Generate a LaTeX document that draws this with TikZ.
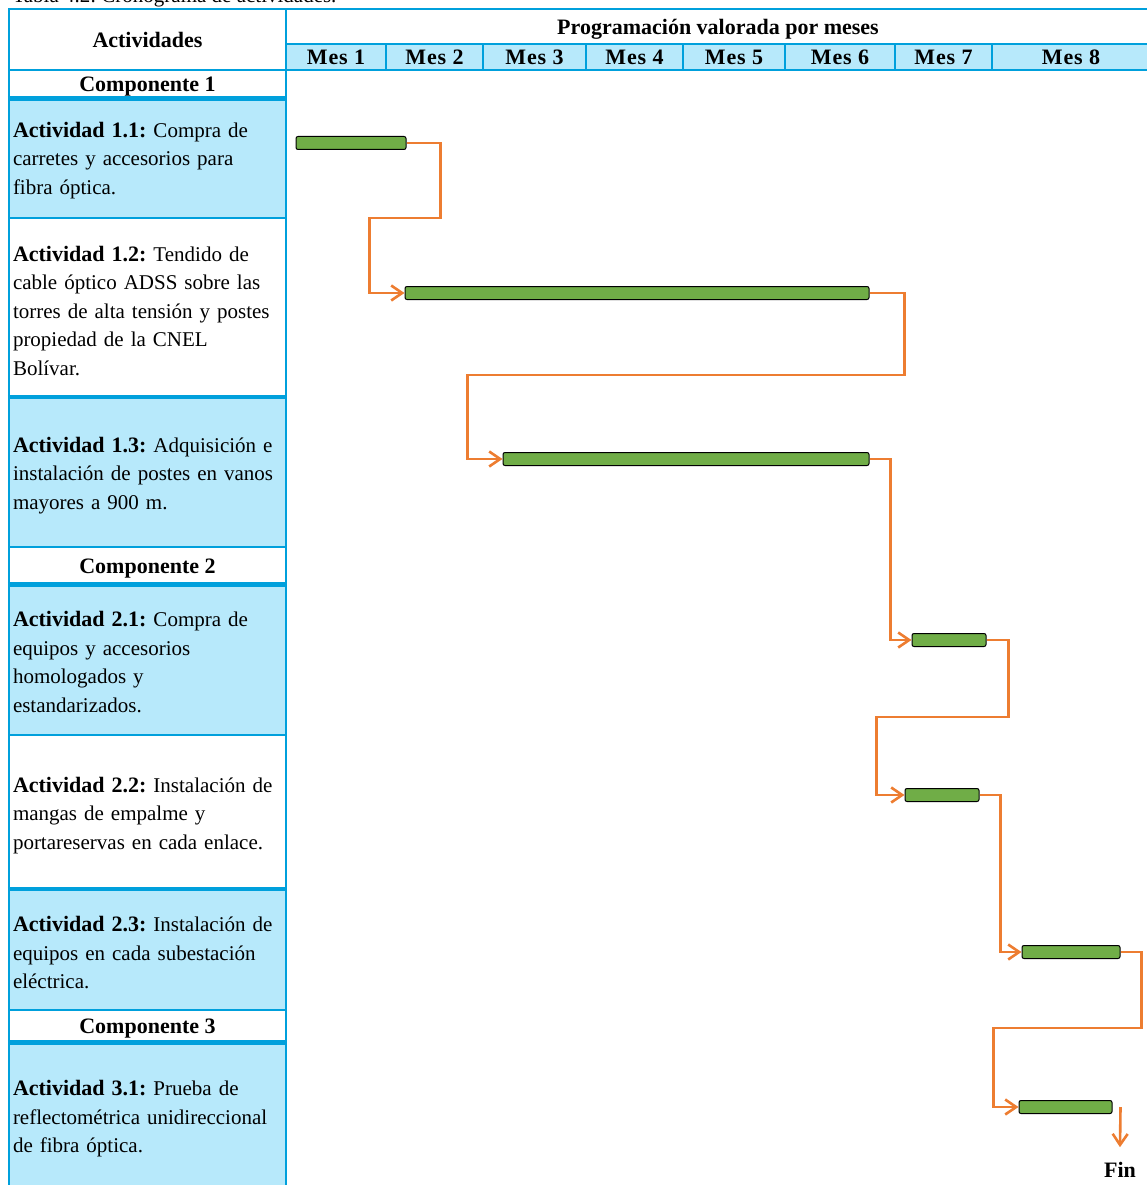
\documentclass[tikz,border=0pt]{standalone}
\usepackage{fontspec}
\setmainfont{Liberation Serif}
\newfontfamily\mesfont[LetterSpace=4]{Liberation Serif}
\usetikzlibrary{arrows.meta}

\definecolor{azulborde}{RGB}{0,160,220}
\definecolor{azulcelda}{RGB}{183,233,251}
\definecolor{verdebarra}{RGB}{112,173,71}
\definecolor{naranja}{RGB}{237,125,49}

\frenchspacing
\newcommand\etiqueta[1]{{\fontsize{22}{28.5}\selectfont\bfseries #1}}

\tikzset{
	celda/.style={draw=azulborde, line width=2.5pt, inner sep=0pt, font=\fontsize{21}{28.5}\selectfont},
	titulo/.style={celda, fill=white, font=\fontsize{22}{28}\selectfont\bfseries},
	actividad/.style={celda, fill=azulcelda, minimum width=277pt, text width=269pt, align=left,
		execute at begin node={\rule{0pt}{21pt}}},
	componente/.style={titulo, minimum width=277pt, text height=18pt, text depth=2pt},
	mes/.style={celda, fill=azulcelda, minimum height=26pt, font=\mesfont\fontsize{22}{24}\selectfont\bfseries},
	barra/.style={draw=black, fill=verdebarra, rounded corners=2pt, line width=1pt, minimum height=13pt, inner sep=0pt},
	flujo/.style={draw=naranja, line width=2.6pt, -{Straight Barb[length=11pt,width=15pt]}},
	linea/.style={draw=azulborde, line width=5pt}
}

\begin{document}
\begin{tikzpicture}[x=1pt, y=-1pt]
	\useasboundingbox (0,0) rectangle (1147,1185);
	
	\node[anchor=base west, font=\fontsize{21}{28}\selectfont] (tabla) at (9,3) {Tabla 4.2: Cronograma de actividades.};
	
	% encabezado
	\node[titulo, minimum width=277pt, minimum height=61pt] (actividades) at (147.5,39.5) {Actividades};
	\node[titulo, minimum width=864pt, minimum height=35pt, text height=18pt, text depth=2pt] (programacion) at (718,26.5) {Programación valorada por meses};
	
	\node[mes, minimum width=100pt] (mes1) at (336,57)    {Mes 1};
	\node[mes, minimum width=97pt]  (mes2) at (434.5,57)  {Mes 2};
	\node[mes, minimum width=103pt] (mes3) at (534.5,57)  {Mes 3};
	\node[mes, minimum width=97pt]  (mes4) at (634.5,57)  {Mes 4};
	\node[mes, minimum width=102pt] (mes5) at (734,57)    {Mes 5};
	\node[mes, minimum width=110pt] (mes6) at (840,57)    {Mes 6};
	\node[mes, minimum width=97pt]  (mes7) at (943.5,57)  {Mes 7};
	\node[mes, minimum width=158pt] (mes8) at (1071,57)   {Mes 8};
	
	% columna de actividades
	\node[componente, minimum height=27pt] (comp1) at (147.5,83.5) {Componente 1};
	\node[actividad, minimum height=121pt] (act11) at (147.5,157.5) {\etiqueta{Actividad 1.1:} Compra de\\carretes y accesorios para\\fibra óptica.};
	\node[actividad, fill=white, minimum height=180pt] (act12) at (147.5,308) {\etiqueta{Actividad 1.2:} Tendido de\\cable óptico ADSS sobre las\\torres de alta tensión y postes\\propiedad de la CNEL\\Bolívar.};
	\node[actividad, minimum height=149pt] (act13) at (147.5,472.5) {\etiqueta{Actividad 1.3:} Adquisición e\\instalación de postes en vanos\\mayores a 900 m.};
	
	\node[componente, minimum height=36pt] (comp2) at (147.5,565) {Componente 2};
	\node[actividad, minimum height=152pt] (act21) at (147.5,659) {\etiqueta{Actividad 2.1:} Compra de\\equipos y accesorios\\homologados y\\estandarizados.};
	\node[actividad, fill=white, minimum height=155pt] (act22) at (147.5,812.5) {\etiqueta{Actividad 2.2:} Instalación de\\mangas de empalme y\\portareservas en cada enlace.};
	\node[actividad, minimum height=120pt] (act23) at (147.5,950) {\etiqueta{Actividad 2.3:} Instalación de\\equipos en cada subestación\\eléctrica.};
	
	\node[componente, minimum height=31pt] (comp3) at (147.5,1025.5) {Componente 3};
	\node[actividad, minimum height=150pt] (act31) at (147.5,1116) {\etiqueta{Actividad 3.1:} Prueba de\\reflectométrica unidireccional\\de fibra óptica.};
	
	% bordes gruesos
	\path[linea] (comp1.south west) -- (comp1.south east);
	\path[linea] (comp2.south west) -- (comp2.south east);
	\path[linea] (comp3.south west) -- (comp3.south east);
	\path[linea, line width=4pt] (act13.north west) -- (act13.north east);
	\path[linea, line width=3.5pt] (act23.north west) -- (act23.north east);
	
	% barras del cronograma
	\node[barra, minimum width=110pt] (b1) at (351,143)    {};
	\node[barra, minimum width=464pt] (b2) at (637,293)    {};
	\node[barra, minimum width=366pt] (b3) at (686,459)    {};
	\node[barra, minimum width=74pt]  (b4) at (949,640)    {};
	\node[barra, minimum width=74pt]  (b5) at (942,795)    {};
	\node[barra, minimum width=98pt]  (b6) at (1071,952)   {};
	\node[barra, minimum width=93pt]  (b7) at (1065.5,1107) {};
	
	\node[font=\fontsize{22}{24}\selectfont\bfseries, inner sep=0pt] (fin) at (1120,1170) {Fin};
	
	\path[flujo] (b1.east) -- ++(34,0) -- ++(0,75) -| ([xshift=-35pt]b2.west) -- (b2.west);
	\path[flujo] (b2.east) -- ++(35,0) -- ++(0,82) -| ([xshift=-35pt]b3.west) -- (b3.west);
	\path[flujo] (b3.east) -- ++(21,0) |- (b4.west);
	\path[flujo] (b4.east) -- ++(22,0) -- ++(0,77) -| ([xshift=-28pt]b5.west) -- (b5.west);
	\path[flujo] (b5.east) -- ++(21,0) |- (b6.west);
	\path[flujo] (b6.east) -- ++(21,0) -- ++(0,76) -| ([xshift=-25pt]b7.west) -- (b7.west);
	\path[flujo] ([xshift=8pt]b7.east) -- ([yshift=15pt]fin.north);
	
\end{tikzpicture}
\end{document}
